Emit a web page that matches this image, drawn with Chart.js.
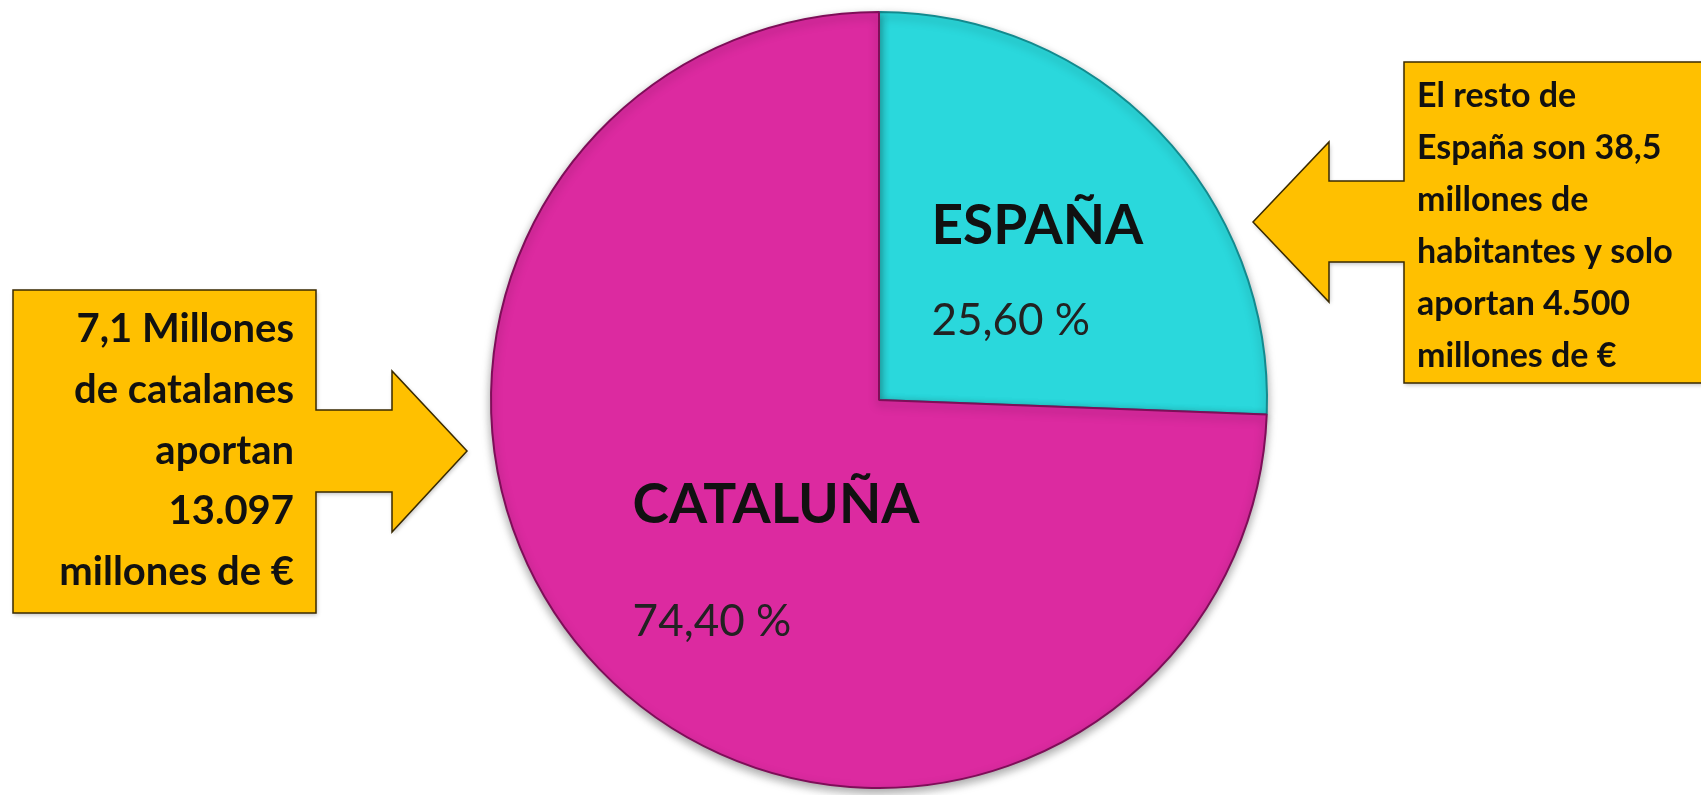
<!DOCTYPE html>
<html>
<head>
<meta charset="utf-8">
<script src="https://cdn.jsdelivr.net/npm/chart.js@4.4.1/dist/chart.umd.min.js"></script>
<style>
  html, body { margin: 0; padding: 0; background: #ffffff; }
  #wrap { width: 1701px; height: 795px; position: relative; }
</style>
</head>
<body>
<div id="wrap"><canvas id="c" width="1701" height="795"></canvas></div>
<script>
// ---- data ----
const categories = ["ESPAÑA", "CATALUÑA"];
const shares = [25.6, 74.4];
const sliceColors = ["#2AD8DC", "#DC2AA0"];
const sliceRims = ["#1FB3B7", "#B01C83"];
const sliceBorders = ["#138a8e", "#7E0E58"];

const leftCallout = ["7,1 Millones", "de catalanes", "aportan", "13.097", "millones de €"];
const rightCallout = ["El resto de", "España son 38,5", "millones de", "habitantes y solo", "aportan 4.500", "millones de €"];

function fmtPct(v) {
  return v.toFixed(2).replace(".", ",") + " %";
}

// label placement relative to slice center (in units of radius)
const labelPlacement = [
  { nameDx: 0.135, nameDy: -0.447, pctDx: 0.135, pctDy: -0.205 },
  { nameDx: -0.635, nameDy: 0.272, pctDx: -0.635, pctDy: 0.572 }
];

function sliceFill(context) {
  const i = context.dataIndex;
  const chart = context.chart;
  const meta = chart.getDatasetMeta(0);
  const arc = meta.data[i];
  if (!arc || !arc.outerRadius) return sliceColors[i];
  const g = chart.ctx.createRadialGradient(arc.x, arc.y, 0, arc.x, arc.y, arc.outerRadius);
  g.addColorStop(0, sliceColors[i]);
  g.addColorStop(0.93, sliceColors[i]);
  g.addColorStop(1, sliceRims[i]);
  return g;
}

const sliceLabels = {
  id: "sliceLabels",
  afterDatasetsDraw(chart) {
    const ctx = chart.ctx;
    const meta = chart.getDatasetMeta(0);
    meta.data.forEach((arc, i) => {
      const r = arc.outerRadius;
      const p = labelPlacement[i];
      ctx.save();
      ctx.fillStyle = "#111111";
      ctx.textAlign = "left";
      ctx.textBaseline = "middle";
      ctx.font = "bold 55px Lato";
      ctx.fillText(categories[i], arc.x + p.nameDx * r, arc.y + p.nameDy * r);
      ctx.fillStyle = "#222222";
      ctx.font = "44px Lato";
      ctx.fillText(fmtPct(shares[i]), arc.x + p.pctDx * r, arc.y + p.pctDy * r);
      ctx.restore();
    });
  }
};

const pieShadow = {
  id: "pieShadow",
  beforeDatasetsDraw(chart) {
    const ctx = chart.ctx;
    ctx.save();
    ctx.shadowColor = "rgba(0,0,0,0.35)";
    ctx.shadowBlur = 10;
    ctx.shadowOffsetX = 0;
    ctx.shadowOffsetY = 4;
  },
  afterDatasetsDraw(chart) {
    chart.ctx.restore();
  }
};

function drawPoly(ctx, pts) {
  ctx.beginPath();
  ctx.moveTo(pts[0][0], pts[0][1]);
  for (let k = 1; k < pts.length; k++) ctx.lineTo(pts[k][0], pts[k][1]);
  ctx.closePath();
}

const callouts = {
  id: "callouts",
  afterDraw(chart) {
    const ctx = chart.ctx;
    ctx.save();
    ctx.fillStyle = "#FFC000";
    ctx.strokeStyle = "#3a2a00";
    ctx.lineWidth = 1.5;
    ctx.shadowColor = "rgba(0,0,0,0.25)";
    ctx.shadowBlur = 4;
    ctx.shadowOffsetX = 1;
    ctx.shadowOffsetY = 2;
    // left callout (arrow pointing right)
    drawPoly(ctx, [[13,290],[316,290],[316,410],[392,410],[392,371],[467,451],[392,532],[392,492],[316,492],[316,613],[13,613]]);
    ctx.fill();
    ctx.shadowColor = "transparent";
    ctx.stroke();
    // right callout (arrow pointing left)
    ctx.shadowColor = "rgba(0,0,0,0.25)";
    drawPoly(ctx, [[1404,62],[1710,62],[1710,383],[1404,383],[1404,262],[1329,262],[1329,302],[1253,222],[1329,142],[1329,181],[1404,181]]);
    ctx.fill();
    ctx.shadowColor = "transparent";
    ctx.stroke();

    ctx.fillStyle = "#111111";
    ctx.textBaseline = "alphabetic";
    ctx.font = "bold 40px Lato";
    ctx.textAlign = "right";
    leftCallout.forEach((t, k) => ctx.fillText(t, 294, 342 + k * 60.8));
    ctx.font = "bold 34px Lato";
    ctx.textAlign = "left";
    rightCallout.forEach((t, k) => ctx.fillText(t, 1417, 107 + k * 52));
    ctx.restore();
  }
};

new Chart(document.getElementById("c"), {
  type: "pie",
  data: {
    labels: categories,
    datasets: [{
      data: shares,
      backgroundColor: sliceFill,
      borderColor: sliceBorders,
      borderWidth: 2
    }]
  },
  options: {
    responsive: false,
    animation: false,
    devicePixelRatio: 1,
    layout: { padding: { left: 57, right: 0, top: 11, bottom: 6 } },
    plugins: {
      legend: { display: false },
      tooltip: { enabled: false },
      title: { display: false }
    }
  },
  plugins: [pieShadow, sliceLabels, callouts]
});
</script>
</body>
</html>
